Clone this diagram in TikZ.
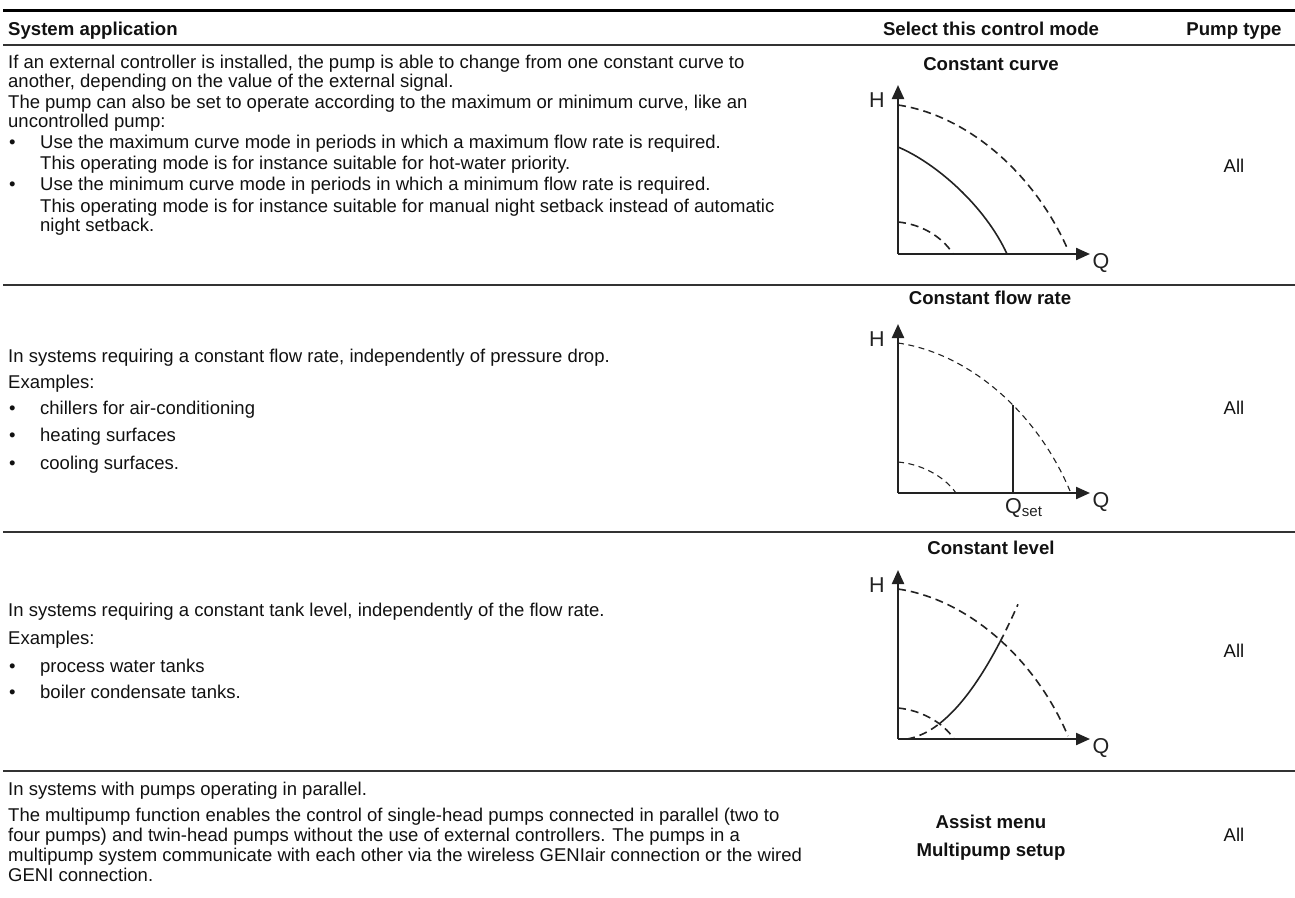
\documentclass[tikz,border=0pt]{standalone}
\usepackage{fontspec}
\setmainfont{Liberation Sans}
\usetikzlibrary{arrows.meta}
\definecolor{col_000000}{RGB}{0,0,0}
\definecolor{col_111111}{RGB}{17,17,17}
\definecolor{col_222222}{RGB}{34,34,34}
\definecolor{col_333333}{RGB}{51,51,51}
\newcommand{\tikzdrawaxes}[2]{%
\draw[axisline] (898,#2) -- (898,#2-169);
\draw[axisline] (898,#2) -- (1090,#2);
\node[graphtext] (H#1) at (877,#2-154) {H};
\node[graphtext] (Q#1) at (1101,#2+9) {Q};
}
\begin{document}
\begin{tikzpicture}[x=1pt,y=-1pt,
  bodytext/.style={anchor=base west, inner sep=0pt, text=col_111111, font=\fontsize{18.5}{20}\selectfont},
  headtext/.style={anchor=base, inner sep=0pt, text=col_111111, font=\bfseries\fontsize{18.6}{20}\selectfont},
  celltext/.style={anchor=base, inner sep=0pt, text=col_111111, font=\fontsize{18.5}{20}\selectfont},
  graphtext/.style={inner sep=0pt, text=col_222222, font=\fontsize{21.5}{22}\selectfont},
  rowrule/.style={col_333333, line width=1.5pt},
  axisline/.style={col_222222, line width=2.2pt, -{Triangle[length=14pt,width=12pt]}},
  pumpcurve/.style={col_222222, line width=1.6pt},
  dashcurve/.style={col_222222, line width=1.6pt, dash pattern=on 8pt off 5pt},
  thincurve/.style={col_222222, line width=1.1pt, dash pattern=on 6pt off 4.5pt}]
\useasboundingbox (0,0) rectangle (1295,897);
%% table rules
\draw[col_000000, line width=3pt] (3,10) -- (1295,10);
\draw[rowrule] (3,45) -- (1295,45);
\draw[rowrule] (3,285) -- (1295,285);
\draw[rowrule] (3,532) -- (1295,532);
\draw[rowrule] (3,771) -- (1295,771);
%% header
\node[headtext, anchor=base west] (hsys) at (8,35.5) {System application};
\node[headtext] (hmode) at (991,35.5) {Select this control mode};
\node[headtext] (htype) at (1234,35.5) {Pump type};
%% row 1 constant curve
\node[bodytext] (t1a) at (8,68) {If an external controller is installed, the pump is able to change from one constant curve to};
\node[bodytext] (t1b) at (8,87) {another, depending on the value of the external signal.};
\node[bodytext] (t1c) at (8,108) {The pump can also be set to operate according to the maximum or minimum curve, like an};
\node[bodytext] (t1d) at (8,127) {uncontrolled pump:};
\node[bodytext] (b1a) at (9,148) {\textbullet};
\node[bodytext] (t1e) at (40,148) {Use the maximum curve mode in periods in which a maximum flow rate is required.};
\node[bodytext] (t1f) at (40,169) {This operating mode is for instance suitable for hot-water priority.};
\node[bodytext] (b1b) at (9,190) {\textbullet};
\node[bodytext] (t1g) at (40,190) {Use the minimum curve mode in periods in which a minimum flow rate is required.};
\node[bodytext] (t1h) at (40,212) {This operating mode is for instance suitable for manual night setback instead of automatic};
\node[bodytext] (t1i) at (40,231) {night setback.};
\node[headtext] (m1) at (991,70.5) {Constant curve};
\tikzdrawaxes{a}{254}
\draw[dashcurve] (898,105) .. controls (966,115) and (1034,172) .. (1068,250);
\draw[pumpcurve] (898,147) .. controls (936,163) and (985,206) .. (1007,254);
\draw[dashcurve] (898,222) .. controls (920,224) and (942,236) .. (953,254);
\node[celltext] (p1) at (1234,172) {All};
%% row 2 constant flow rate
\node[bodytext] (t2a) at (8,362) {In systems requiring a constant flow rate, independently of pressure drop.};
\node[bodytext] (t2b) at (8,388) {Examples:};
\node[bodytext] (b2a) at (9,414) {\textbullet};
\node[bodytext] (t2c) at (40,414) {chillers for air-conditioning};
\node[bodytext] (b2b) at (9,441) {\textbullet};
\node[bodytext] (t2d) at (40,441) {heating surfaces};
\node[bodytext] (b2c) at (9,469) {\textbullet};
\node[bodytext] (t2e) at (40,469) {cooling surfaces.};
\node[headtext] (m2) at (990,304) {Constant flow rate};
\tikzdrawaxes{b}{493}
\draw[thincurve] (898,343) .. controls (967,353) and (1036,410) .. (1070,491);
\draw[thincurve] (898,462) .. controls (921,464) and (944,476) .. (956,493);
\draw[pumpcurve] (1013,405) -- (1013,493);
\node[graphtext, anchor=base west] (qset) at (1005,513) {Q\textsubscript{set}};
\node[celltext] (p2) at (1234,414) {All};
%% row 3 constant level
\node[bodytext] (t3a) at (8,616) {In systems requiring a constant tank level, independently of the flow rate.};
\node[bodytext] (t3b) at (8,644) {Examples:};
\node[bodytext] (b3a) at (9,672) {\textbullet};
\node[bodytext] (t3c) at (40,672) {process water tanks};
\node[bodytext] (b3b) at (9,698) {\textbullet};
\node[bodytext] (t3d) at (40,698) {boiler condensate tanks.};
\node[headtext] (m3) at (991,554) {Constant level};
\tikzdrawaxes{c}{739}
\draw[dashcurve] (898,589) .. controls (966,599) and (1034,656) .. (1068,736);
\draw[dashcurve] (898,708) .. controls (920,710) and (943,722) .. (954,739);
\draw[dashcurve] plot[domain=9:41.5, samples=15] ({898+\x}, {739-0.941*((\x/10)^2-0.81)});
\draw[pumpcurve] plot[domain=41.5:102, samples=30] ({898+\x}, {739-0.941*((\x/10)^2-0.81)});
\draw[dashcurve] plot[domain=102:120, samples=10] ({898+\x}, {739-0.941*((\x/10)^2-0.81)});
\node[celltext] (p3) at (1234,657) {All};
%% row 4 multipump
\node[bodytext] (t4a) at (8,795) {In systems with pumps operating in parallel.};
\node[bodytext] (t4b) at (8,821) {The multipump function enables the control of single-head pumps connected in parallel (two to};
\node[bodytext] (t4c) at (8,841) {four pumps) and twin-head pumps without the use of external controllers. The pumps in a};
\node[bodytext] (t4d) at (8,861) {multipump system communicate with each other via the wireless GENIair connection or the wired};
\node[bodytext] (t4e) at (8,881) {GENI connection.};
\node[headtext] (m4a) at (991,828) {Assist menu};
\node[headtext] (m4b) at (991,856) {Multipump setup};
\node[celltext] (p4) at (1234,841) {All};
\end{tikzpicture}
\end{document}
